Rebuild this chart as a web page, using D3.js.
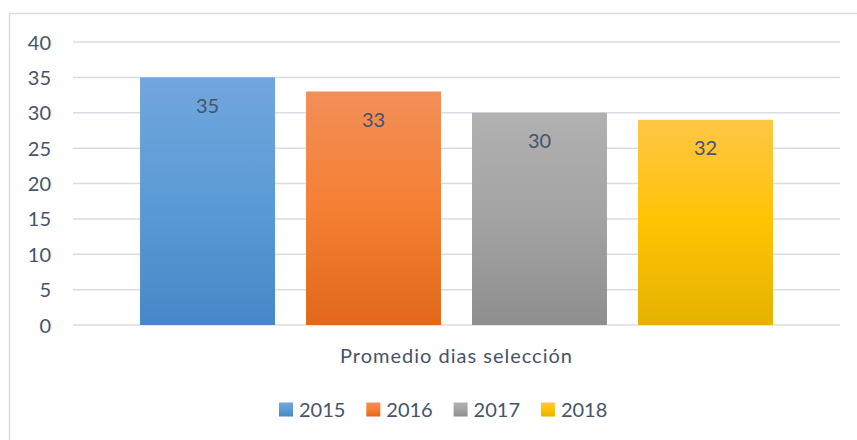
<!DOCTYPE html>
<html>
<head>
<meta charset="utf-8">
<script src="https://cdn.jsdelivr.net/npm/d3@7"></script>
<style>
  body { margin: 0; background: #fff; }
  svg text { font-family: Lato, "Open Sans", sans-serif; fill: #44546a; }
</style>
</head>
<body>
<svg id="chart" width="857" height="440"></svg>
<script>
// chart data
var category = "Promedio dias selección";
var years = ["2015", "2016", "2017", "2018"];
var values = [35, 33, 30, 29];
var labels = ["35", "33", "30", "32"];
var yTicks = [0, 5, 10, 15, 20, 25, 30, 35, 40];

// gradient stops per series (top, middle, bottom)
var colors = [
  ["#71a6dd", "#5b9bd5", "#4687c7"],
  ["#f28f58", "#f57f33", "#e1681a"],
  ["#b1b1b1", "#a3a3a3", "#8e8e8e"],
  ["#ffc646", "#ffc303", "#e3b300"]
];

var svg = d3.select("#chart");

// outer frame (cut off at right and bottom like the original)
svg.append("rect").attr("x", 9.5).attr("y", 13.5).attr("width", 900).attr("height", 500)
  .style("fill", "none").style("stroke", "#d9dde3").style("stroke-width", 1.5);

var defs = svg.append("defs");
years.forEach(function(yr, i) {
  var g = defs.append("linearGradient").attr("id", "grad" + i)
    .attr("x1", 0).attr("y1", 0).attr("x2", 0).attr("y2", 1);
  g.append("stop").attr("offset", "0%").attr("stop-color", colors[i][0]);
  g.append("stop").attr("offset", "50%").attr("stop-color", colors[i][1]);
  g.append("stop").attr("offset", "100%").attr("stop-color", colors[i][2]);
});

var y = d3.scaleLinear().domain([0, 40]).range([325, 42]);
var x0 = d3.scaleBand().domain([category]).range([73, 840]).paddingOuter(0.0776);
var x1 = d3.scaleBand().domain(years).range([0, x0.bandwidth()]).paddingInner(0.187).paddingOuter(0.0935);

// grid lines
svg.append("g").selectAll("line").data(yTicks).enter().append("line")
  .attr("x1", 73).attr("x2", 840)
  .attr("y1", function(d) { return y(d); }).attr("y2", function(d) { return y(d); })
  .style("stroke", "#d9dde3").style("stroke-width", 1.5);

// y tick labels
svg.append("g").selectAll("text").data(yTicks).enter().append("text")
  .attr("x", 51).attr("y", function(d) { return y(d) + 7.5; })
  .attr("text-anchor", "end").style("font-size", "20px")
  .text(function(d) { return d; });

// bars
var gx = x0(category);
svg.append("g").selectAll("rect").data(years).enter().append("rect")
  .attr("x", function(d) { return gx + x1(d); })
  .attr("y", function(d, i) { return y(values[i]); })
  .attr("width", x1.bandwidth())
  .attr("height", function(d, i) { return y(0) - y(values[i]); })
  .style("fill", function(d, i) { return "url(#grad" + i + ")"; });

// data labels
svg.append("g").selectAll("text").data(years).enter().append("text")
  .attr("x", function(d) { return gx + x1(d) + x1.bandwidth() / 2; })
  .attr("y", function(d, i) { return y(values[i]) + 35.5; })
  .attr("text-anchor", "middle").style("font-size", "20px")
  .text(function(d, i) { return labels[i]; });

// category label
svg.append("text").attr("x", gx + x0.bandwidth() / 2).attr("y", 363)
  .attr("text-anchor", "middle").style("font-size", "20px").style("letter-spacing", "1px")
  .text(category);

// legend
var legStep = 87.3, legX = 279;
var leg = svg.append("g").selectAll("g").data(years).enter().append("g")
  .attr("transform", function(d, i) { return "translate(" + (legX + i * legStep) + ",0)"; });
leg.append("rect").attr("x", 0).attr("y", 402.5).attr("width", 14).attr("height", 14)
  .style("fill", function(d, i) { return "url(#grad" + i + ")"; });
leg.append("text").attr("x", 20).attr("y", 417).style("font-size", "20px")
  .text(function(d) { return d; });
</script>
</body>
</html>
